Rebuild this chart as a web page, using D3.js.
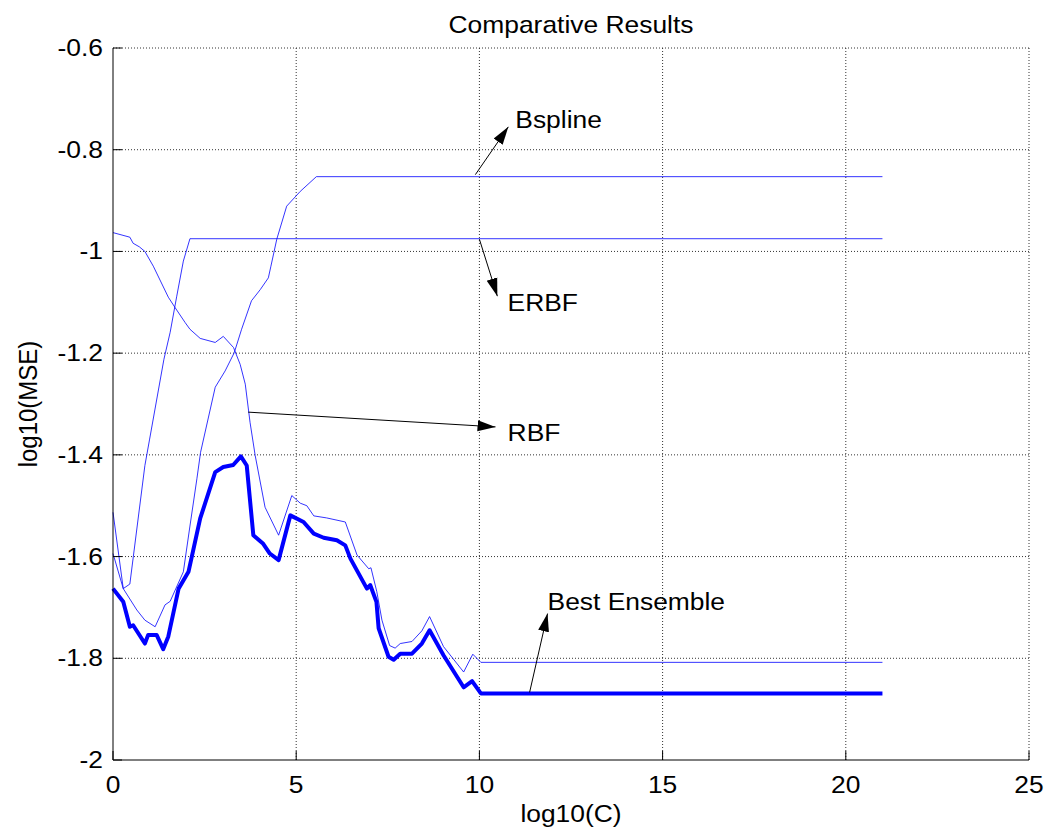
<!DOCTYPE html>
<html>
<head>
<meta charset="utf-8">
<script src="https://cdn.jsdelivr.net/npm/d3@7"></script>
<style>
  body { margin: 0; background: #fff; }
  text { font-family: "Liberation Sans", Arial, sans-serif; fill: #000; }
</style>
</head>
<body>
<div class="graph"></div>
<script>
var xTicks = [0, 5, 10, 15, 20, 25];
var yTicks = [-2, -1.8, -1.6, -1.4, -1.2, -1, -0.8, -0.6];

var ensembleX = [0, 0.28, 0.46, 0.55, 0.87, 0.96, 1.19, 1.37, 1.51, 1.79, 2.06, 2.38, 2.79, 3.01, 3.28, 3.49, 3.65, 3.83, 4.1, 4.28, 4.52, 4.84, 5.2, 5.48, 5.75, 6.11, 6.34, 6.48, 6.93, 7.02, 7.19, 7.25, 7.52, 7.66, 7.84, 8.16, 8.43, 8.64, 9.02, 9.57, 9.8, 10.04, 21];
var ensembleY = [-1.663, -1.689, -1.738, -1.735, -1.771, -1.754, -1.754, -1.782, -1.757, -1.663, -1.63, -1.525, -1.434, -1.424, -1.42, -1.403, -1.421, -1.558, -1.575, -1.594, -1.607, -1.519, -1.532, -1.555, -1.563, -1.568, -1.578, -1.604, -1.663, -1.656, -1.689, -1.741, -1.797, -1.803, -1.791, -1.791, -1.771, -1.745, -1.794, -1.857, -1.845, -1.869, -1.869];

var rbfX = [0, 0.46, 0.55, 0.72, 0.87, 1.1, 1.51, 1.69, 1.97, 2.1, 2.38, 2.79, 3.01, 3.29, 3.47, 3.61, 3.74, 3.88, 4.15, 4.52, 4.88, 5.11, 5.29, 5.48, 5.83, 6.34, 6.66, 6.98, 7.04, 7.2, 7.34, 7.55, 7.7, 7.84, 8.16, 8.43, 8.64, 9.02, 9.57, 9.82, 10.04, 21];
var rbfY = [-0.963, -0.972, -0.984, -0.991, -1.0, -1.029, -1.09, -1.11, -1.14, -1.153, -1.171, -1.179, -1.167, -1.189, -1.222, -1.261, -1.336, -1.401, -1.503, -1.558, -1.48, -1.495, -1.5, -1.52, -1.524, -1.532, -1.597, -1.624, -1.622, -1.669, -1.725, -1.775, -1.78, -1.771, -1.767, -1.746, -1.718, -1.777, -1.827, -1.792, -1.808, -1.808];

var bsplineX = [0, 0.28, 0.65, 0.87, 1.15, 1.42, 1.56, 1.92, 2.1, 2.29, 2.39, 2.79, 3.06, 3.31, 3.51, 3.78, 4.02, 4.24, 4.31, 4.47, 4.74, 5.11, 5.55, 21];
var bsplineY = [-1.594, -1.663, -1.705, -1.725, -1.738, -1.695, -1.688, -1.63, -1.54, -1.447, -1.395, -1.267, -1.235, -1.199, -1.153, -1.097, -1.075, -1.052, -1.029, -0.976, -0.911, -0.882, -0.853, -0.853];

var erbfX = [0, 0.28, 0.46, 0.87, 1.0, 1.39, 1.56, 1.74, 1.92, 2.1, 21];
var erbfY = [-1.513, -1.663, -1.654, -1.421, -1.369, -1.212, -1.159, -1.088, -1.019, -0.975, -0.975];

// label name, arrow tail, arrow head, text anchor (all in data units)
var labelNames = ['Bspline', 'ERBF', 'RBF', 'Best Ensemble'];
var labelTails = [[9.89, -0.849], [10.0, -0.976], [3.69, -1.316], [11.37, -1.867]];
var labelHeads = [[10.79, -0.755], [10.49, -1.088], [10.44, -1.345], [11.86, -1.712]];
var labelSpots = [[10.98, -0.758], [10.77, -1.118], [10.77, -1.373], [11.86, -1.706]];

var W = 1053, H = 833;
var mLeft = 113, mRight = 1029, mTop = 48, mBottom = 760;
var stretch = 1.1; // glyphs in the picture are a bit wider than tall

var x = d3.scaleLinear().domain([0, 25]).range([mLeft, mRight]);
var y = d3.scaleLinear().domain([-2, -0.6]).range([mBottom, mTop]);

var svg = d3.select('.graph')
  .append('svg')
  .attr('width', W)
  .attr('height', H);

function label(g, px, py, txt, size, anchor, rot) {
  var tr = 'translate(' + px + ',' + py + ')';
  if (rot) tr += ' rotate(' + rot + ') scale(1,' + stretch + ')';
  else tr += ' scale(' + stretch + ',1)';
  return g.append('text')
    .attr('transform', tr)
    .attr('text-anchor', anchor)
    .style('font-size', size + 'px')
    .text(txt);
}

// dotted grid
var grid = svg.append('g').attr('class', 'grid');
grid.selectAll('line.gx')
  .data(xTicks.filter(function (d) { return d > 0; }))
  .enter().append('line')
  .attr('x1', function (d) { return x(d); })
  .attr('x2', function (d) { return x(d); })
  .attr('y1', mTop).attr('y2', mBottom)
  .attr('stroke', '#333').attr('stroke-dasharray', '1,2').attr('stroke-width', 1);
grid.selectAll('line.gy')
  .data(yTicks.filter(function (d) { return d > -2; }))
  .enter().append('line')
  .attr('y1', function (d) { return y(d); })
  .attr('y2', function (d) { return y(d); })
  .attr('x1', mLeft).attr('x2', mRight)
  .attr('stroke', '#333').attr('stroke-dasharray', '1,2').attr('stroke-width', 1);

// series
var line = d3.line()
  .x(function (d) { return x(d[0]); })
  .y(function (d) { return y(d[1]); });

function pts(xs, ys) { return xs.map(function (v, i) { return [v, ys[i]]; }); }

var thin = [pts(bsplineX, bsplineY), pts(erbfX, erbfY), pts(rbfX, rbfY)];
svg.append('g').selectAll('path.thin')
  .data(thin)
  .enter().append('path')
  .attr('class', 'thin')
  .attr('d', line)
  .attr('fill', 'none')
  .attr('stroke', '#0000ff')
  .attr('stroke-width', 0.8);

svg.append('path')
  .datum(pts(ensembleX, ensembleY))
  .attr('d', line)
  .attr('fill', 'none')
  .attr('stroke', '#0000ff')
  .attr('stroke-width', 4)
  .attr('stroke-linejoin', 'round');

// axes: left and bottom only, ticks pointing inward
var axes = svg.append('g');
axes.append('line').attr('x1', mLeft).attr('x2', mLeft).attr('y1', mTop).attr('y2', mBottom)
  .attr('stroke', '#000');
axes.append('line').attr('x1', mLeft).attr('x2', mRight).attr('y1', mBottom).attr('y2', mBottom)
  .attr('stroke', '#000');
axes.selectAll('line.ty')
  .data(yTicks).enter().append('line')
  .attr('x1', mLeft).attr('x2', mLeft + 9)
  .attr('y1', function (d) { return y(d); })
  .attr('y2', function (d) { return y(d); })
  .attr('stroke', '#000');
axes.selectAll('line.tx')
  .data(xTicks).enter().append('line')
  .attr('y1', mBottom).attr('y2', mBottom - 9)
  .attr('x1', function (d) { return x(d); })
  .attr('x2', function (d) { return x(d); })
  .attr('stroke', '#000');

yTicks.forEach(function (d) {
  label(axes, mLeft - 10, y(d) + 8, String(+d.toFixed(1)), 24, 'end');
});
xTicks.forEach(function (d) {
  label(axes, x(d), mBottom + 33, d, 24, 'middle');
});

label(svg, (mLeft + mRight) / 2, 33, 'Comparative Results', 24, 'middle');
label(svg, (mLeft + mRight) / 2, 822, 'log10(C)', 24, 'middle');
label(svg, 37, (mTop + mBottom) / 2, 'log10(MSE)', 24, 'middle', -90);

// annotations
svg.append('defs').append('marker')
  .attr('id', 'head')
  .attr('markerUnits', 'userSpaceOnUse')
  .attr('viewBox', '0 -6 18 12')
  .attr('refX', 18).attr('refY', 0)
  .attr('markerWidth', 18).attr('markerHeight', 12)
  .attr('orient', 'auto')
  .append('path')
  .attr('d', 'M0,-5.5L18,0L0,5.5Z')
  .attr('fill', '#000');

var notes = svg.append('g');
labelNames.forEach(function (name, i) {
  notes.append('line')
    .attr('x1', x(labelTails[i][0])).attr('y1', y(labelTails[i][1]))
    .attr('x2', x(labelHeads[i][0])).attr('y2', y(labelHeads[i][1]))
    .attr('stroke', '#000').attr('stroke-width', 1)
    .attr('marker-end', 'url(#head)');
  label(notes, x(labelSpots[i][0]), y(labelSpots[i][1]), name, 24, 'start');
});
</script>
</body>
</html>
